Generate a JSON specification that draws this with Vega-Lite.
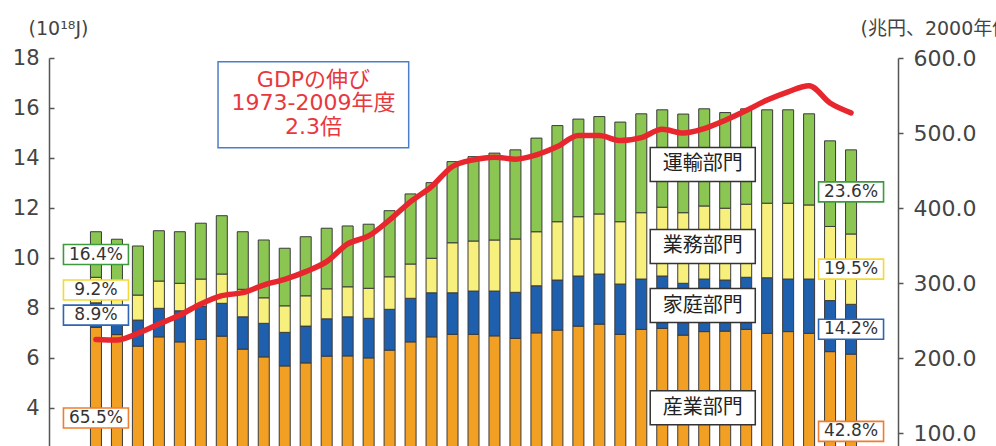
{
  "$schema": "https://vega.github.io/schema/vega-lite/v6.json",
  "width": 849,
  "height": 388,
  "autosize": {"type": "none"},
  "padding": {"left": 49, "top": 58, "right": 98, "bottom": 0},
  "background": "white",
  "config": {"view": {"stroke": null}, "font": "DejaVu Sans"},
  "datasets": {
    "energy": [
      {"year":1973,"sector":"産業部門","value":7.24,"pct":"65.5%"},{"year":1973,"sector":"家庭部門","value":0.98,"pct":"8.9%"},{"year":1973,"sector":"業務部門","value":1.02,"pct":"9.2%"},{"year":1973,"sector":"運輸部門","value":1.82,"pct":"16.4%"},
      {"year":1974,"sector":"産業部門","value":6.95},{"year":1974,"sector":"家庭部門","value":1.00},{"year":1974,"sector":"業務部門","value":1.00},{"year":1974,"sector":"運輸部門","value":1.81},
      {"year":1975,"sector":"産業部門","value":6.49},{"year":1975,"sector":"家庭部門","value":1.04},{"year":1975,"sector":"業務部門","value":1.00},{"year":1975,"sector":"運輸部門","value":1.96},
      {"year":1976,"sector":"産業部門","value":6.86},{"year":1976,"sector":"家庭部門","value":1.14},{"year":1976,"sector":"業務部門","value":1.09},{"year":1976,"sector":"運輸部門","value":2.01},
      {"year":1977,"sector":"産業部門","value":6.66},{"year":1977,"sector":"家庭部門","value":1.24},{"year":1977,"sector":"業務部門","value":1.10},{"year":1977,"sector":"運輸部門","value":2.06},
      {"year":1978,"sector":"産業部門","value":6.76},{"year":1978,"sector":"家庭部門","value":1.33},{"year":1978,"sector":"業務部門","value":1.08},{"year":1978,"sector":"運輸部門","value":2.23},
      {"year":1979,"sector":"産業部門","value":6.89},{"year":1979,"sector":"家庭部門","value":1.31},{"year":1979,"sector":"業務部門","value":1.17},{"year":1979,"sector":"運輸部門","value":2.33},
      {"year":1980,"sector":"産業部門","value":6.37},{"year":1980,"sector":"家庭部門","value":1.29},{"year":1980,"sector":"業務部門","value":1.10},{"year":1980,"sector":"運輸部門","value":2.30},
      {"year":1981,"sector":"産業部門","value":6.06},{"year":1981,"sector":"家庭部門","value":1.34},{"year":1981,"sector":"業務部門","value":1.02},{"year":1981,"sector":"運輸部門","value":2.31},
      {"year":1982,"sector":"産業部門","value":5.70},{"year":1982,"sector":"家庭部門","value":1.34},{"year":1982,"sector":"業務部門","value":1.06},{"year":1982,"sector":"運輸部門","value":2.30},
      {"year":1983,"sector":"産業部門","value":5.82},{"year":1983,"sector":"家庭部門","value":1.47},{"year":1983,"sector":"業務部門","value":1.21},{"year":1983,"sector":"運輸部門","value":2.36},
      {"year":1984,"sector":"産業部門","value":6.09},{"year":1984,"sector":"家庭部門","value":1.49},{"year":1984,"sector":"業務部門","value":1.20},{"year":1984,"sector":"運輸部門","value":2.42},
      {"year":1985,"sector":"産業部門","value":6.10},{"year":1985,"sector":"家庭部門","value":1.56},{"year":1985,"sector":"業務部門","value":1.20},{"year":1985,"sector":"運輸部門","value":2.43},
      {"year":1986,"sector":"産業部門","value":6.02},{"year":1986,"sector":"家庭部門","value":1.58},{"year":1986,"sector":"業務部門","value":1.20},{"year":1986,"sector":"運輸部門","value":2.56},
      {"year":1987,"sector":"産業部門","value":6.33},{"year":1987,"sector":"家庭部門","value":1.63},{"year":1987,"sector":"業務部門","value":1.30},{"year":1987,"sector":"運輸部門","value":2.64},
      {"year":1988,"sector":"産業部門","value":6.66},{"year":1988,"sector":"家庭部門","value":1.74},{"year":1988,"sector":"業務部門","value":1.37},{"year":1988,"sector":"運輸部門","value":2.80},
      {"year":1989,"sector":"産業部門","value":6.86},{"year":1989,"sector":"家庭部門","value":1.76},{"year":1989,"sector":"業務部門","value":1.38},{"year":1989,"sector":"運輸部門","value":3.02},
      {"year":1990,"sector":"産業部門","value":6.96},{"year":1990,"sector":"家庭部門","value":1.66},{"year":1990,"sector":"業務部門","value":2.00},{"year":1990,"sector":"運輸部門","value":3.24},
      {"year":1991,"sector":"産業部門","value":6.96},{"year":1991,"sector":"家庭部門","value":1.73},{"year":1991,"sector":"業務部門","value":2.00},{"year":1991,"sector":"運輸部門","value":3.37},
      {"year":1992,"sector":"産業部門","value":6.90},{"year":1992,"sector":"家庭部門","value":1.79},{"year":1992,"sector":"業務部門","value":2.04},{"year":1992,"sector":"運輸部門","value":3.47},
      {"year":1993,"sector":"産業部門","value":6.80},{"year":1993,"sector":"家庭部門","value":1.84},{"year":1993,"sector":"業務部門","value":2.13},{"year":1993,"sector":"運輸部門","value":3.56},
      {"year":1994,"sector":"産業部門","value":7.02},{"year":1994,"sector":"家庭部門","value":1.88},{"year":1994,"sector":"業務部門","value":2.16},{"year":1994,"sector":"運輸部門","value":3.74},
      {"year":1995,"sector":"産業部門","value":7.13},{"year":1995,"sector":"家庭部門","value":2.00},{"year":1995,"sector":"業務部門","value":2.33},{"year":1995,"sector":"運輸部門","value":3.84},
      {"year":1996,"sector":"産業部門","value":7.29},{"year":1996,"sector":"家庭部門","value":2.00},{"year":1996,"sector":"業務部門","value":2.37},{"year":1996,"sector":"運輸部門","value":3.90},
      {"year":1997,"sector":"産業部門","value":7.37},{"year":1997,"sector":"家庭部門","value":2.00},{"year":1997,"sector":"業務部門","value":2.40},{"year":1997,"sector":"運輸部門","value":3.89},
      {"year":1998,"sector":"産業部門","value":6.96},{"year":1998,"sector":"家庭部門","value":2.01},{"year":1998,"sector":"業務部門","value":2.49},{"year":1998,"sector":"運輸部門","value":3.98},
      {"year":1999,"sector":"産業部門","value":7.16},{"year":1999,"sector":"家庭部門","value":2.01},{"year":1999,"sector":"業務部門","value":2.65},{"year":1999,"sector":"運輸部門","value":3.95},
      {"year":2000,"sector":"産業部門","value":7.20},{"year":2000,"sector":"家庭部門","value":2.09},{"year":2000,"sector":"業務部門","value":2.75},{"year":2000,"sector":"運輸部門","value":3.89},
      {"year":2001,"sector":"産業部門","value":6.93},{"year":2001,"sector":"家庭部門","value":2.07},{"year":2001,"sector":"業務部門","value":2.82},{"year":2001,"sector":"運輸部門","value":3.94},
      {"year":2002,"sector":"産業部門","value":7.07},{"year":2002,"sector":"家庭部門","value":2.10},{"year":2002,"sector":"業務部門","value":2.92},{"year":2002,"sector":"運輸部門","value":3.88},
      {"year":2003,"sector":"産業部門","value":7.09},{"year":2003,"sector":"家庭部門","value":2.04},{"year":2003,"sector":"業務部門","value":2.87},{"year":2003,"sector":"運輸部門","value":3.82},
      {"year":2004,"sector":"産業部門","value":7.16},{"year":2004,"sector":"家庭部門","value":2.08},{"year":2004,"sector":"業務部門","value":2.92},{"year":2004,"sector":"運輸部門","value":3.81},
      {"year":2005,"sector":"産業部門","value":7.00},{"year":2005,"sector":"家庭部門","value":2.22},{"year":2005,"sector":"業務部門","value":2.98},{"year":2005,"sector":"運輸部門","value":3.73},
      {"year":2006,"sector":"産業部門","value":7.07},{"year":2006,"sector":"家庭部門","value":2.10},{"year":2006,"sector":"業務部門","value":3.03},{"year":2006,"sector":"運輸部門","value":3.73},
      {"year":2007,"sector":"産業部門","value":7.00},{"year":2007,"sector":"家庭部門","value":2.17},{"year":2007,"sector":"業務部門","value":2.96},{"year":2007,"sector":"運輸部門","value":3.64},
      {"year":2008,"sector":"産業部門","value":6.27},{"year":2008,"sector":"家庭部門","value":2.04},{"year":2008,"sector":"業務部門","value":2.96},{"year":2008,"sector":"運輸部門","value":3.42},
      {"year":2009,"sector":"産業部門","value":6.17,"pct":"42.8%"},{"year":2009,"sector":"家庭部門","value":1.99,"pct":"14.2%"},{"year":2009,"sector":"業務部門","value":2.81,"pct":"19.5%"},{"year":2009,"sector":"運輸部門","value":3.36,"pct":"23.6%"}
    ],
    "gdp": [
      {"year":1973,"gdp":225.3},{"year":1974,"gdp":224.4},{"year":1975,"gdp":233.3},{"year":1976,"gdp":245.7},{"year":1977,"gdp":257.7},
      {"year":1978,"gdp":272.4},{"year":1979,"gdp":283.5},{"year":1980,"gdp":287.5},{"year":1981,"gdp":297.7},{"year":1982,"gdp":305.3},
      {"year":1983,"gdp":315.5},{"year":1984,"gdp":328.8},{"year":1985,"gdp":352.4},{"year":1986,"gdp":363.0},{"year":1987,"gdp":384.4},
      {"year":1988,"gdp":408.8},{"year":1989,"gdp":428.8},{"year":1990,"gdp":455.5},{"year":1991,"gdp":464.4},{"year":1992,"gdp":468.0},
      {"year":1993,"gdp":465.3},{"year":1994,"gdp":471.0},{"year":1995,"gdp":482.0},{"year":1996,"gdp":496.8},{"year":1997,"gdp":496.8},
      {"year":1998,"gdp":490.0},{"year":1999,"gdp":494.0},{"year":2000,"gdp":505.0},{"year":2001,"gdp":500.0},{"year":2002,"gdp":506.0},
      {"year":2003,"gdp":517.0},{"year":2004,"gdp":530.0},{"year":2005,"gdp":544.0},{"year":2006,"gdp":555.0},{"year":2007,"gdp":563.0},
      {"year":2008,"gdp":540.0},{"year":2009,"gdp":527.0}
    ]
  },
  "layer": [
    {
      "layer": [
        {
          "data": {"name": "energy"},
          "transform": [{"calculate": "indexof(['産業部門','家庭部門','業務部門','運輸部門'], datum.sector)", "as": "k"}],
          "mark": {"type": "bar", "orient": "vertical", "width": 11, "stroke": "#3a3a3a", "strokeWidth": 1, "clip": true},
          "encoding": {
            "x": {"field": "year", "type": "quantitative", "scale": {"domain": [1971, 2011], "nice": false, "zero": false}, "axis": null},
            "y": {"field": "value", "type": "quantitative", "stack": "zero",
              "scale": {"domain": [2.5, 18], "nice": false, "zero": false},
              "axis": {"orient": "left", "values": [4,6,8,10,12,14,16,18], "title": "(10¹⁸J)", "titleAngle": 0, "titleX": 9, "titleY": -30, "titleAlign": "center", "titleBaseline": "middle", "titleFont": "DejaVu Sans", "titleFontSize": 19, "titleFontWeight": "normal", "titleColor": "#444", "labelFont": "DejaVu Sans", "labelFontSize": 21, "labelColor": "#444", "domainColor": "#555", "domainWidth": 1.5, "tickColor": "#555", "tickWidth": 1.5, "tickSize": -5, "labelPadding": 15, "grid": false, "labelOverlap": false}},
            "color": {"field": "sector", "type": "nominal", "scale": {"domain": ["産業部門","家庭部門","業務部門","運輸部門"], "range": ["#F2A024","#1E5FAE","#F8F07C","#8CC652"]}, "legend": null},
            "order": {"field": "k", "type": "quantitative"}
          }
        },
        {
          "data": {"name": "energy"},
          "transform": [{"filter": "isValid(datum.pct)"}, {"calculate": "indexof(['産業部門','家庭部門','業務部門','運輸部門'], datum.sector)", "as": "k"}],
          "mark": {"type": "point", "shape": "M-3.25,-1H3.25V1H-3.25Z", "size": 400, "filled": true, "fill": "white", "strokeWidth": 1.6, "opacity": 1},
          "encoding": {
            "x": {"field": "year", "type": "quantitative", "axis": null},
            "y": {"field": "value", "type": "quantitative", "stack": "zero", "bandPosition": 0.5},
            "stroke": {"field": "sector", "type": "nominal", "scale": {"domain": ["産業部門","家庭部門","業務部門","運輸部門"], "range": ["#F07D2E","#2E64B4","#F5D835","#3E9A3E"]}, "legend": null},
            "order": {"field": "k", "type": "quantitative"}
          }
        },
        {
          "data": {"name": "energy"},
          "transform": [{"filter": "isValid(datum.pct)"}, {"calculate": "indexof(['産業部門','家庭部門','業務部門','運輸部門'], datum.sector)", "as": "k"}],
          "mark": {"type": "text", "font": "DejaVu Sans", "fontSize": 17, "color": "#333", "align": "center", "baseline": "middle"},
          "encoding": {
            "x": {"field": "year", "type": "quantitative", "axis": null},
            "y": {"field": "value", "type": "quantitative", "stack": "zero", "bandPosition": 0.5},
            "text": {"field": "pct", "type": "nominal"},
            "detail": {"field": "sector", "type": "nominal"},
            "order": {"field": "k", "type": "quantitative"}
          }
        },
        {
          "data": {"values": [{}]},
          "mark": {"type": "rect", "fill": "white", "stroke": "#4A7EC8", "strokeWidth": 1.5},
          "encoding": {
            "x": {"datum": 1978.82, "type": "quantitative", "axis": null},
            "x2": {"datum": 1987.91},
            "y": {"datum": 17.85, "type": "quantitative"},
            "y2": {"datum": 14.41}
          }
        },
        {
          "data": {"values": [{}]},
          "mark": {"type": "text", "text": ["GDPの伸び", "1973-2009年度", "2.3倍"], "font": "'DejaVu Sans', 'Noto Sans CJK JP'", "fontSize": 22, "lineHeight": 23.5, "color": "#E8383D", "align": "center", "baseline": "middle"},
          "encoding": {
            "x": {"datum": 1983.37, "type": "quantitative", "axis": null},
            "y": {"datum": 17.13, "type": "quantitative"}
          }
        },
        {
          "data": {"values": [{"label": "運輸部門"}]},
          "mark": {"type": "point", "shape": "M-3.09,-1H3.09V1H-3.09Z", "size": 1156, "filled": true, "fill": "white", "stroke": "#333", "strokeWidth": 1.5, "opacity": 1},
          "encoding": {"x": {"datum": 2001.93, "type": "quantitative", "axis": null}, "y": {"datum": 13.75, "type": "quantitative"}}
        },
        {
          "data": {"values": [{"label": "運輸部門"}]},
          "mark": {"type": "text", "font": "Noto Sans CJK JP", "fontSize": 20, "color": "#222", "align": "center", "baseline": "middle"},
          "encoding": {"x": {"datum": 2001.93, "type": "quantitative", "axis": null}, "y": {"datum": 13.75, "type": "quantitative"}, "text": {"field": "label", "type": "nominal"}}
        },
        {
          "data": {"values": [{"label": "業務部門"}]},
          "mark": {"type": "point", "shape": "M-3.09,-1H3.09V1H-3.09Z", "size": 1156, "filled": true, "fill": "white", "stroke": "#333", "strokeWidth": 1.5, "opacity": 1},
          "encoding": {"x": {"datum": 2001.93, "type": "quantitative", "axis": null}, "y": {"datum": 10.47, "type": "quantitative"}}
        },
        {
          "data": {"values": [{"label": "業務部門"}]},
          "mark": {"type": "text", "font": "Noto Sans CJK JP", "fontSize": 20, "color": "#222", "align": "center", "baseline": "middle"},
          "encoding": {"x": {"datum": 2001.93, "type": "quantitative", "axis": null}, "y": {"datum": 10.47, "type": "quantitative"}, "text": {"field": "label", "type": "nominal"}}
        },
        {
          "data": {"values": [{"label": "家庭部門"}]},
          "mark": {"type": "point", "shape": "M-3.09,-1H3.09V1H-3.09Z", "size": 1156, "filled": true, "fill": "white", "stroke": "#333", "strokeWidth": 1.5, "opacity": 1},
          "encoding": {"x": {"datum": 2001.93, "type": "quantitative", "axis": null}, "y": {"datum": 8.11, "type": "quantitative"}}
        },
        {
          "data": {"values": [{"label": "家庭部門"}]},
          "mark": {"type": "text", "font": "Noto Sans CJK JP", "fontSize": 20, "color": "#222", "align": "center", "baseline": "middle"},
          "encoding": {"x": {"datum": 2001.93, "type": "quantitative", "axis": null}, "y": {"datum": 8.11, "type": "quantitative"}, "text": {"field": "label", "type": "nominal"}}
        },
        {
          "data": {"values": [{"label": "産業部門"}]},
          "mark": {"type": "point", "shape": "M-3.09,-1H3.09V1H-3.09Z", "size": 1156, "filled": true, "fill": "white", "stroke": "#333", "strokeWidth": 1.5, "opacity": 1},
          "encoding": {"x": {"datum": 2001.93, "type": "quantitative", "axis": null}, "y": {"datum": 4.03, "type": "quantitative"}}
        },
        {
          "data": {"values": [{"label": "産業部門"}]},
          "mark": {"type": "text", "font": "Noto Sans CJK JP", "fontSize": 20, "color": "#222", "align": "center", "baseline": "middle"},
          "encoding": {"x": {"datum": 2001.93, "type": "quantitative", "axis": null}, "y": {"datum": 4.03, "type": "quantitative"}, "text": {"field": "label", "type": "nominal"}}
        }
      ]
    },
    {
      "data": {"name": "gdp"},
      "mark": {"type": "line", "color": "#E8262E", "strokeWidth": 5.5, "interpolate": "monotone", "strokeCap": "round", "strokeJoin": "round"},
      "encoding": {
        "x": {"field": "year", "type": "quantitative", "axis": null},
        "y": {"field": "gdp", "type": "quantitative",
          "scale": {"domain": [83.333, 600], "nice": false, "zero": false},
          "axis": {"orient": "right", "values": [100,200,300,400,500,600], "format": ".1f", "title": "(兆円、2000年価格)", "titleAngle": 0, "titleX": -38, "titleY": -30, "titleAlign": "left", "titleBaseline": "middle", "titleFont": "'DejaVu Sans', 'Noto Sans CJK JP'", "titleFontSize": 19, "titleFontWeight": "normal", "titleColor": "#444", "labelFont": "DejaVu Sans", "labelFontSize": 22, "labelColor": "#444", "domainColor": "#555", "domainWidth": 1.5, "tickColor": "#555", "tickWidth": 1.5, "tickSize": 5, "labelPadding": 10, "grid": false, "labelOverlap": false}}
      }
    }
  ],
  "resolve": {"scale": {"y": "independent"}}
}
